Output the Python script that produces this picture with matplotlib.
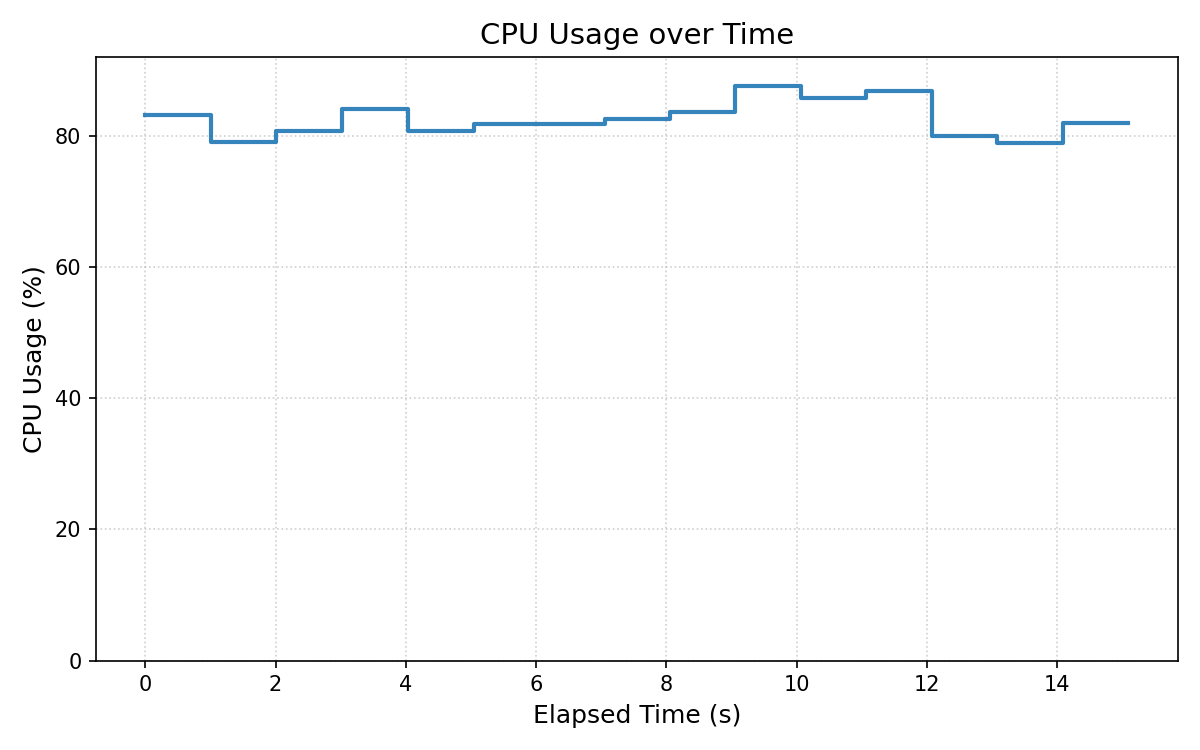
import matplotlib
matplotlib.use("Agg")
import matplotlib.pyplot as plt

# sampled CPU usage, roughly one sample per second
elapsed_s = [0.0, 1.01, 2.01, 3.02, 4.03, 5.04, 6.04, 7.05, 8.05,
             9.05, 10.06, 11.06, 12.07, 13.07, 14.08, 15.09]
cpu_pct = [83.2, 79.1, 80.8, 84.1, 80.8, 81.8, 81.8, 82.7, 83.7,
           87.7, 85.9, 86.9, 80.0, 79.0, 82.0, 82.0]

fig, ax = plt.subplots(figsize=(8, 5), dpi=150)
ax.step(elapsed_s, cpu_pct, where="post", color="tab:blue", alpha=0.9, linewidth=2.0)

ax.set_title("CPU Usage over Time", fontsize=14)
ax.set_xlabel("Elapsed Time (s)", fontsize=12)
ax.set_ylabel("CPU Usage (%)", fontsize=12)
ax.set_ylim(0, max(cpu_pct) * 1.05)
ax.grid(True, linestyle=":", alpha=0.6)

fig.tight_layout()
fig.savefig("out.png", dpi=150)
